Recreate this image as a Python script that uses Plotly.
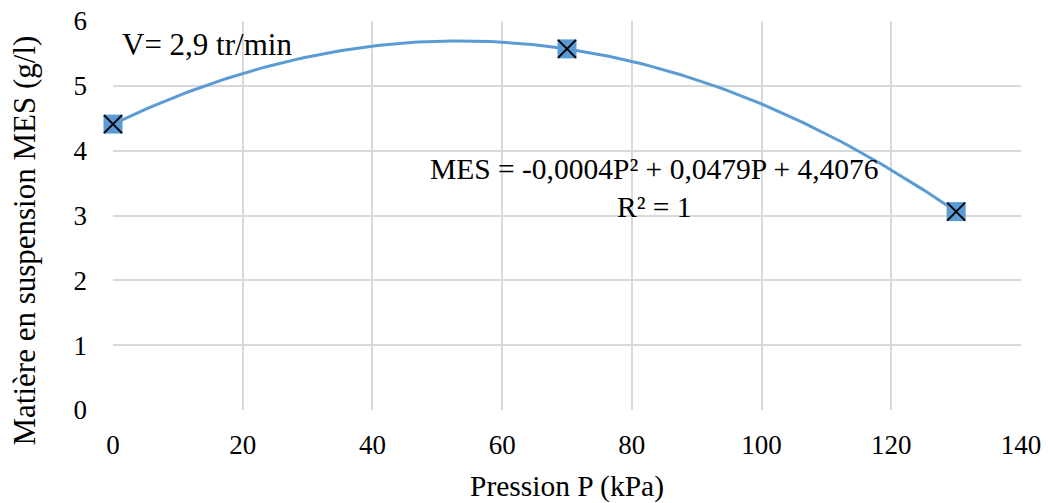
import numpy as np
import plotly.graph_objects as go

pression = [0, 70, 130]
mes = [4.41, 5.57, 3.06]

x_ticks = [0, 20, 40, 60, 80, 100, 120, 140]
y_ticks = [0, 1, 2, 3, 4, 5, 6]

coef = np.polyfit(pression, mes, 2)
xf = np.linspace(min(pression), max(pression), 200)
yf = np.polyval(coef, xf)

FONT = "Liberation Serif, Times New Roman, serif"
BLUE = "#5b9bd5"

fig = go.Figure()
fig.add_trace(go.Scatter(x=xf, y=yf, mode="lines", line=dict(color=BLUE, width=3),
                         hoverinfo="skip", showlegend=False, cliponaxis=False))
fig.add_trace(go.Scatter(x=pression, y=mes, mode="markers", cliponaxis=False,
                         marker=dict(symbol="square", size=19, color=BLUE, line=dict(width=0)),
                         showlegend=False))
fig.add_trace(go.Scatter(x=pression, y=mes, mode="markers", cliponaxis=False,
                         marker=dict(symbol="x-thin", size=18, color="black",
                                     line=dict(width=2, color="black")),
                         showlegend=False, hoverinfo="skip"))

fig.add_annotation(x=0, y=5.64, xref="x", yref="y", xanchor="left", yanchor="middle",
                   xshift=7, text="V= 2,9 tr/min", showarrow=False,
                   font=dict(family=FONT, size=31, color="black"))
fig.add_annotation(x=83.5, y=3.42, xref="x", yref="y", xanchor="center", yanchor="middle",
                   text="MES = -0,0004P² + 0,0479P + 4,4076<br>R² = 1", showarrow=False,
                   font=dict(family=FONT, size=29.5, color="black"))
fig.add_annotation(x=0, y=0.5, xref="paper", yref="paper", xanchor="center", yanchor="middle",
                   xshift=-89, yshift=-25, textangle=-90, borderpad=0,
                   text="Matière en suspension MES (g/l)", showarrow=False,
                   font=dict(family=FONT, size=31, color="black"))

fig.update_layout(
    width=1048, height=503,
    margin=dict(l=113, r=27, t=21, b=93),
    plot_bgcolor="white", paper_bgcolor="white",
    font=dict(family=FONT, size=27, color="black"),
    xaxis=dict(range=[0, 140], tickvals=x_ticks, showgrid=True, gridcolor="#d9d9d9",
               gridwidth=1.5, zeroline=False, showline=False, ticks="", automargin=False,
               ticklabelstandoff=16, ticklabeloverflow="allow",
               title=dict(text="Pression P (kPa)", font=dict(size=29.5), standoff=18),
               tickfont=dict(size=27)),
    yaxis=dict(range=[0, 6], tickvals=y_ticks, showgrid=True, gridcolor="#d9d9d9",
               gridwidth=1.5, zeroline=False, showline=False, ticks="", automargin=False,
               ticklabelstandoff=25, ticklabeloverflow="allow",
               tickfont=dict(size=27)),
)

fig.write_html("out.html", config={"displayModeBar": False},
               post_script="document.body.style.margin='0';document.body.style.overflow='hidden';")
